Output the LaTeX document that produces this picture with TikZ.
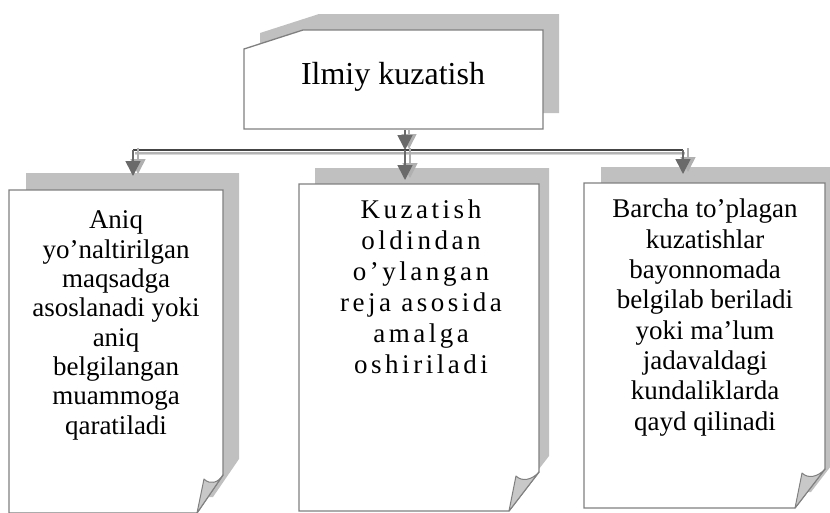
\documentclass[tikz,border=0pt]{standalone}
\usepackage{fontspec}
\setmainfont{Liberation Serif}
\newfontfamily\spacedfont[LetterSpace=13]{Liberation Serif}
\usetikzlibrary{arrows.meta}

\definecolor{shadowgray}{HTML}{C0C0C0}
\definecolor{edgegray}{HTML}{808080}
\definecolor{flapgray}{HTML}{C8C8C8}
\definecolor{bardark}{HTML}{454545}
\definecolor{barlight}{HTML}{B4B4B4}
\definecolor{barlighter}{HTML}{D8D8D8}
\definecolor{arrowdark}{HTML}{6A6A6A}
\definecolor{arrowlight}{HTML}{B0B0B0}

\begin{document}
\begin{tikzpicture}[x=1pt,y=-1pt,
  shadowfill/.style={fill=shadowgray, draw=none},
  boxedge/.style={draw=edgegray, line width=1.3pt, fill=white, line join=miter},
  flap/.style={draw=edgegray, line width=1pt, fill=flapgray, line join=round},
  boxtext/.style={align=center, font={\fontsize{27}{30}\selectfont}, inner sep=0pt, anchor=base},
  barmain/.style={draw=bardark, line width=1.8pt},
  barlo/.style={draw=barlight, line width=1.2pt},
  barlo2/.style={draw=barlighter, line width=1.2pt},
  arrdark/.style={draw=arrowdark, line width=1.6pt, -{Triangle[width=15pt,length=15pt]}},
  arrlight/.style={draw=arrowlight, line width=1.6pt, -{Triangle[width=15pt,length=15pt]}},
]
\useasboundingbox (0,0) rectangle (830,512);
\clip (0,0) rectangle (830,512);

% ---------- shadows ----------
\fill[shadowfill] (260,33) -- (319,14) -- (559,14) -- (559,113) -- (260,113) -- cycle;
\fill[shadowfill] (26,173) -- (239,173) -- (239,459) -- (213,497) -- (26,497) -- cycle;
\fill[shadowfill] (315,168) -- (549,168) -- (549,456) -- (519,495) -- (315,495) -- cycle;
\fill[shadowfill] (601,167) -- (841,167) -- (841,453) -- (811,492) -- (601,492) -- cycle;

% ---------- top box ----------
\draw[boxedge] (244,49) -- (303,30) -- (543,30) -- (543,129) -- (244,129) -- cycle;
\node[font={\fontsize{32}{38}\selectfont}, anchor=base, inner sep=0pt] (title) at (393,84) {Ilmiy kuzatish};

% ---------- connector points ----------
\coordinate (topout) at (405,130);
\coordinate (barmid) at (405,150);
\coordinate (barL) at (133,150);
\coordinate (barR) at (683,150);
\coordinate (in1) at (133,176);
\coordinate (in2) at (405,180);
\coordinate (in3) at (683,174);

% ---------- bar ----------
\draw[barlo2] ([shift={(2,4.5)}]barL) -- ([shift={(2,4.5)}]barR);
\draw[barlo] ([shift={(2,3)}]barL) -- ([shift={(2,3)}]barR);

\draw[arrlight] ([shift={(4,-1)}]topout) -- ([shift={(4,-1)}]barmid);
\draw[arrdark] (topout) -- (barmid);
\draw[barmain] (barL) -- (barR);

\draw[arrlight] ([shift={(5,-2)}]barL) -- ([shift={(5,-2)}]in1);
\draw[arrdark] (barL) -- (in1);
\draw[arrlight] ([shift={(5,-2)}]barmid) -- ([shift={(5,-2)}]in2);
\draw[arrdark] (barmid) -- (in2);
\draw[arrlight] ([shift={(5,-2)}]barR) -- ([shift={(5,-2)}]in3);
\draw[arrdark] (barR) -- (in3);

% ---------- left page ----------
\draw[boxedge] (9,190) -- (223,190) -- (223,475) -- (197,513) -- (9,513) -- cycle;
\draw[flap] (197,513) -- (204,479) .. controls (210,485) and (218,483) .. (223,475) -- cycle;
\node[boxtext, font={\fontsize{27}{29.3}\selectfont}] (t1) at (116,434)
  {Aniq\\yo’naltirilgan\\maqsadga\\asoslanadi yoki\\aniq\\belgilangan\\muammoga\\qaratiladi};

% ---------- centre page ----------
\draw[boxedge] (299,184) -- (539,184) -- (539,472) -- (509,511) -- (299,511) -- cycle;
\draw[flap] (509,511) -- (516,476) .. controls (522,482) and (532,480) .. (539,472) -- cycle;
\node[boxtext, font={\spacedfont\fontsize{27}{31}\selectfont}] (t2) at (421,373)
  {Kuzatish\\oldindan\\o’ylangan\\reja asosida\\amalga\\oshiriladi};

% ---------- right page ----------
\draw[boxedge] (584,183) -- (825,183) -- (825,469) -- (795,508) -- (584,508) -- cycle;
\draw[flap] (795,508) -- (802,473) .. controls (808,479) and (818,477) .. (825,469) -- cycle;
\node[boxtext, font={\fontsize{27}{30.3}\selectfont}] (t3) at (705,430)
  {Barcha to’plagan\\kuzatishlar\\bayonnomada\\belgilab beriladi\\yoki ma’lum\\jadavaldagi\\kundaliklarda\\qayd qilinadi};
\end{tikzpicture}
\end{document}
